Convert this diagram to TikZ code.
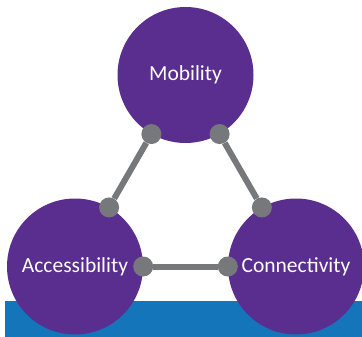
\documentclass[tikz,border=0pt]{standalone}
\usepackage{fontspec}
\setmainfont{Carlito}
\definecolor{purp}{HTML}{5A2E8E}
\definecolor{bluebar}{HTML}{1575BB}
\definecolor{dotgray}{HTML}{77787B}
\begin{document}
\begin{tikzpicture}[x=1pt,y=-1pt,
  circ/.style={circle,fill=purp,minimum size=136pt,inner sep=0pt,text=white,font=\fontsize{21.5}{21.5}\selectfont},
  dotn/.style={circle,fill=dotgray,minimum size=20pt,inner sep=0pt},
  link/.style={draw=dotgray,line width=6pt}]
\useasboundingbox (0,0) rectangle (362,337);
\fill[bluebar] (5,301) rectangle (362,337);
\node[circ] (mob) at (185.5,75) {Mobility};
\node[circ] (acc) at (75,266.5) {Accessibility};
\node[circ] (con) at (296,266.5) {Connectivity};
\node[dotn] (m1) at (mob.240) {};
\node[dotn] (m2) at (mob.300) {};
\node[dotn] (a1) at (acc.60) {};
\node[dotn] (a2) at (acc.0) {};
\node[dotn] (c1) at (con.120) {};
\node[dotn] (c2) at (con.180) {};
\draw[link] (m1) -- (a1);
\draw[link] (m2) -- (c1);
\draw[link] (a2) -- (c2);
\end{tikzpicture}
\end{document}
